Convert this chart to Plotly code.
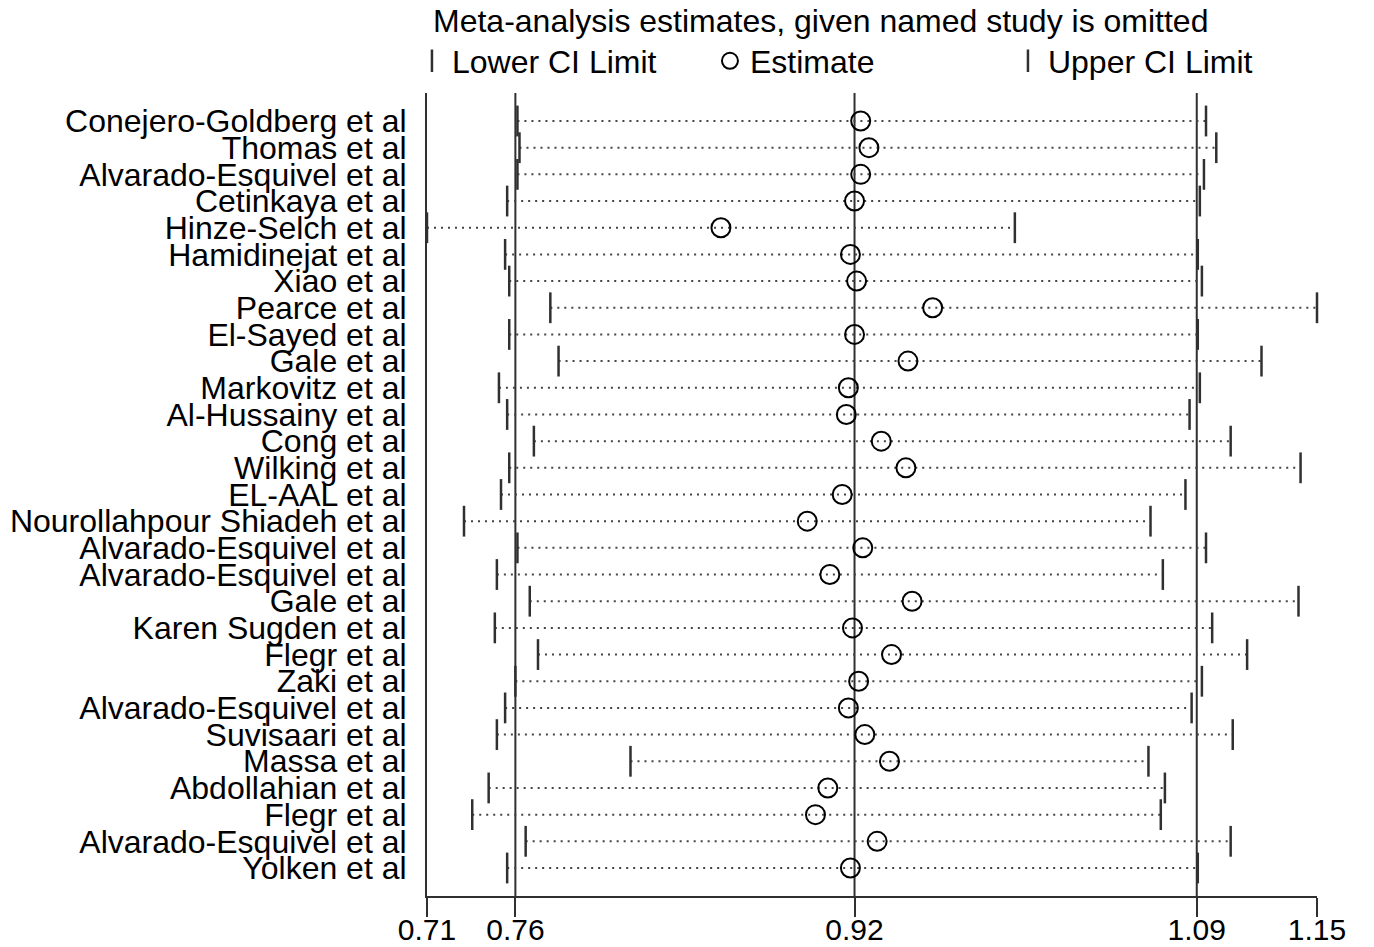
import plotly.graph_objects as go

studies = [
    "Conejero-Goldberg et al", "Thomas et al", "Alvarado-Esquivel et al", "Cetinkaya et al",
    "Hinze-Selch et al", "Hamidinejat et al", "Xiao et al", "Pearce et al", "El-Sayed et al",
    "Gale et al", "Markovitz et al", "Al-Hussainy et al", "Cong et al", "Wilking et al",
    "EL-AAL et al", "Nourollahpour Shiadeh et al", "Alvarado-Esquivel et al",
    "Alvarado-Esquivel et al", "Gale et al", "Karen Sugden et al", "Flegr et al", "Zaki et al",
    "Alvarado-Esquivel et al", "Suvisaari et al", "Massa et al", "Abdollahian et al",
    "Flegr et al", "Alvarado-Esquivel et al", "Yolken et al",
]
lower = [0.758, 0.759, 0.758, 0.753, 0.714, 0.752, 0.754, 0.774, 0.754, 0.778,
         0.749, 0.753, 0.766, 0.754, 0.750, 0.732, 0.758, 0.748, 0.764, 0.747,
         0.768, 0.757, 0.752, 0.748, 0.813, 0.744, 0.736, 0.762, 0.753]
estimate = [0.925, 0.929, 0.925, 0.922, 0.857, 0.920, 0.923, 0.960, 0.922, 0.948,
            0.919, 0.918, 0.935, 0.947, 0.916, 0.899, 0.926, 0.910, 0.950, 0.921,
            0.940, 0.924, 0.919, 0.927, 0.939, 0.909, 0.903, 0.933, 0.920]
upper = [1.093, 1.098, 1.092, 1.090, 1.000, 1.089, 1.091, 1.147, 1.089, 1.120,
         1.090, 1.085, 1.105, 1.139, 1.083, 1.066, 1.093, 1.072, 1.138, 1.096,
         1.113, 1.091, 1.086, 1.106, 1.065, 1.073, 1.071, 1.105, 1.089]

overall_lower = 0.757
overall_estimate = 0.922
overall_upper = 1.0885
axis_min = 0.714
axis_max = 1.147

tick_vals = [axis_min, overall_lower, overall_estimate, overall_upper, axis_max]
tick_text = ["0.71", "0.76", "0.92", "1.09", "1.15"]

pos = list(range(len(studies)))

FONT = "Liberation Sans, Arial, sans-serif"
LINE = "#303030"

# dotted CI lines
lx, ly = [], []
for i, (lo, hi) in enumerate(zip(lower, upper)):
    lx += [lo, hi, None]
    ly += [i, i, None]

fig = go.Figure()
fig.add_trace(go.Scatter(
    x=lx, y=ly, mode="lines", showlegend=False, hoverinfo="skip",
    line=dict(color="#444444", width=2, dash="2px,5px"),
    cliponaxis=False,
))
fig.add_trace(go.Scatter(
    x=lower, y=pos, mode="markers", name="Lower CI Limit",
    marker=dict(symbol="line-ns-open", size=22, color=LINE, line=dict(color=LINE, width=2.5)),
    cliponaxis=False,
))
fig.add_trace(go.Scatter(
    x=estimate, y=pos, mode="markers", name="Estimate",
    marker=dict(symbol="circle-open", size=19, color="black", line=dict(color="black", width=2)),
    cliponaxis=False,
))
fig.add_trace(go.Scatter(
    x=upper, y=pos, mode="markers", name="Upper CI Limit",
    marker=dict(symbol="line-ns-open", size=22, color=LINE, line=dict(color=LINE, width=2.5)),
    cliponaxis=False,
))

for v in [overall_lower, overall_estimate, overall_upper]:
    fig.add_shape(type="line", xref="x", yref="paper", x0=v, x1=v, y0=0, y1=1,
                  line=dict(color=LINE, width=2), layer="below")

fig.update_layout(
    width=1374, height=947,
    margin=dict(l=427, r=57, t=93, b=51, autoexpand=False),
    paper_bgcolor="white", plot_bgcolor="white",
    font=dict(family=FONT, size=32, color="black"),
    title=dict(text="Meta-analysis estimates, given named study is omitted",
               x=(433 - 427) / 890, xref="paper", xanchor="left",
               y=1 - 21 / 947, yref="container", yanchor="middle",
               font=dict(family=FONT, size=32, color="black")),
    legend=dict(orientation="h", x=-0.0169, xanchor="left", y=1 + 32 / 803, yanchor="middle",
                entrywidth=253, entrywidthmode="pixels", itemsizing="trace",
                font=dict(family=FONT, size=32, color="black"),
                bgcolor="rgba(0,0,0,0)", tracegroupgap=0),
    showlegend=True,
)
fig.update_xaxes(range=[axis_min, axis_max], tickvals=tick_vals, ticktext=tick_text,
                 ticks="outside", ticklen=19, tickwidth=2, tickcolor=LINE,
                 showline=True, linewidth=2, linecolor=LINE, showgrid=False, zeroline=False,
                 automargin=False, ticklabelstandoff=-13,
                 tickfont=dict(family=FONT, size=30, color="black"))
fig.update_yaxes(range=[len(studies) - 1 + 1.05, -1.05], tickvals=pos, ticktext=studies,
                 ticks="", showline=True, linewidth=2, linecolor=LINE, showgrid=False,
                 zeroline=False, ticklabelstandoff=12, automargin=False,
                 tickfont=dict(family=FONT, size=32, color="black"))

fig.write_html("out.html")
